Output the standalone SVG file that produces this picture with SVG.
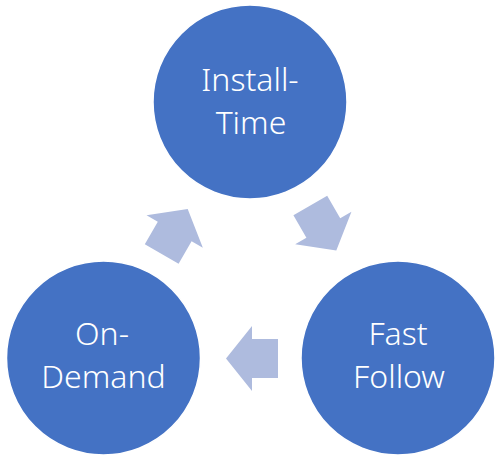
<svg xmlns="http://www.w3.org/2000/svg" width="500" height="464" viewBox="0 0 500 464">
<style>
.node circle{fill:#4472C4;stroke:#FFFFFF;stroke-width:1.5}
.node text{fill:#FFFFFF;font-family:"Noto Sans","Open Sans","Liberation Sans",sans-serif;font-size:32px;font-weight:300;text-anchor:middle}
.arrow{fill:#AEBBDE}
</style>
<defs>
<polygon id="arr" points="226,358.5 252,326 252,339 278,339 278,378 252,378 252,391"/>
</defs>
<rect width="500" height="464" fill="#FFFFFF"/>
<g id="connectors">
<use href="#arr" class="arrow" transform="rotate(120 250 272.7)"/>
<use href="#arr" class="arrow" transform="rotate(-120 250 272.7)"/>
<use href="#arr" class="arrow"/>
</g>
<g id="install-time" class="node">
<circle cx="250" cy="102" r="97"/>
<text x="250" y="91">Install-</text>
<text x="251" y="134">Time</text>
</g>
<g id="fast-follow" class="node">
<circle cx="398" cy="358" r="97"/>
<text x="398" y="345">Fast</text>
<text x="399" y="388">Follow</text>
</g>
<g id="on-demand" class="node">
<circle cx="103.5" cy="358" r="97"/>
<text x="102" y="345">On-</text>
<text x="103.5" y="388">Demand</text>
</g>
</svg>
